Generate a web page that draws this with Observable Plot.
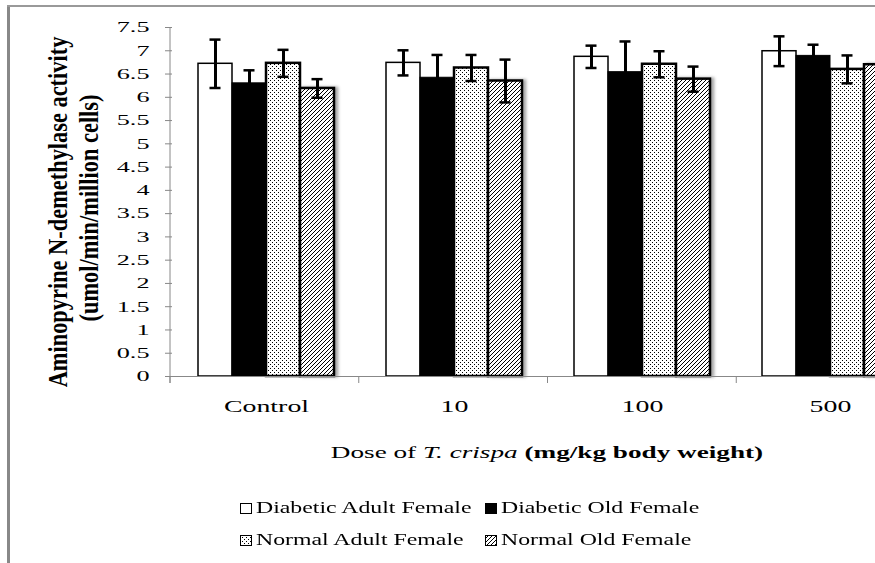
<!DOCTYPE html>
<html><head><meta charset="utf-8">
<script src="https://cdn.jsdelivr.net/npm/d3@7"></script>
<script src="https://cdn.jsdelivr.net/npm/@observablehq/plot@0.6"></script>
<style>
html,body{margin:0;padding:0;background:#fff;}
#wrap{position:relative;width:875px;height:563px;overflow:hidden;background:#fff;font-family:"Liberation Serif",serif;}
#chart{position:absolute;left:0;top:0;width:940px;height:563px;}
#chart svg{max-width:none !important;}
#frameL{position:absolute;left:7px;top:5px;width:3px;height:560px;background:#888;}
#frameT{position:absolute;left:7px;top:5px;width:870px;height:2px;background:#999;}
.lg{position:absolute;display:flex;align-items:center;white-space:nowrap;}
.lg span{display:inline-block;transform:scaleX(1.4);transform-origin:0 50%;font-size:17px;color:#000;}
</style></head><body>
<div id="wrap"><div id="chart"></div><div id="frameL"></div><div id="frameT"></div></div>
<script>
const doses = ["Control", "10", "100", "500"];
const series = ["Diabetic Adult Female", "Diabetic Old Female", "Normal Adult Female", "Normal Old Female"];
const diabeticAdult   = [6.72, 6.74, 6.87, 6.99];
const diabeticAdultSE = [0.52, 0.27, 0.24, 0.32];
const diabeticOld     = [6.30, 6.42, 6.54, 6.89];
const diabeticOldSE   = [0.28, 0.49, 0.66, 0.24];
const normalAdult     = [6.73, 6.63, 6.71, 6.60];
const normalAdultSE   = [0.29, 0.28, 0.28, 0.30];
const normalOld       = [6.19, 6.35, 6.39, 6.70];
const normalOldSE     = [0.20, 0.46, 0.27, 0.30];
const yTicks = [0, 0.5, 1, 1.5, 2, 2.5, 3, 3.5, 4, 4.5, 5, 5.5, 6, 6.5, 7, 7.5];
const fills = ["#ffffff", "#000000", "url(#dots)", "url(#hatch)"];

const means = [diabeticAdult, diabeticOld, normalAdult, normalOld];
const ses = [diabeticAdultSE, diabeticOldSE, normalAdultSE, normalOldSE];
const rows = [];
doses.forEach((dose, i) => series.forEach((s, j) => rows.push({dose, series: s, mean: means[j][i], se: ses[j][i], k: j})));

const chart = Plot.plot({
  width: 940, height: 563,
  marginLeft: 170, marginRight: 15, marginTop: 27, marginBottom: 187,
  style: {fontFamily: "Liberation Serif, serif", background: "transparent", color: "#000", maxWidth: "none"},
  fx: {domain: doses, padding: 0, label: null},
  x: {domain: series, paddingInner: 0, paddingOuter: 0.73, axis: null},
  y: {domain: [0, 7.5]},
  color: {domain: series, range: fills},
  marks: [
    Plot.barY(rows.filter(d => d.k === 0), {fx: "dose", x: "series", y: "mean", fill: "series", stroke: "#000", strokeWidth: 1.5}),
    Plot.barY(rows.filter(d => d.k === 1), {fx: "dose", x: "series", y: "mean", fill: "series", stroke: "#000", strokeWidth: 1}),
    Plot.barY(rows.filter(d => d.k === 2), {fx: "dose", x: "series", y: "mean", fill: "series", stroke: "#000", strokeWidth: 2.5}),
    Plot.barY(rows.filter(d => d.k === 3), {fx: "dose", x: "series", y: "mean", fill: "series", stroke: "#000", strokeWidth: 2.5}),
    Plot.ruleY([0], {stroke: "#888", strokeWidth: 1}),
    Plot.ruleX(rows, {fx: "dose", x: "series", y1: d => d.mean - d.se, y2: d => d.mean + d.se, stroke: "#000", strokeWidth: 3}),
    Plot.tickY(rows, {fx: "dose", x: "series", y: d => d.mean + d.se, stroke: "#000", strokeWidth: 2.5, inset: 11.5}),
    Plot.tickY(rows, {fx: "dose", x: "series", y: d => d.mean - d.se, stroke: "#000", strokeWidth: 2.5, inset: 11.5}),
    Plot.axisY({ticks: yTicks, tickFormat: d => String(d), tickSize: 7, tickPadding: 16, stroke: "#888", fontSize: 15, label: null}),
    Plot.axisFx({anchor: "bottom", tickSize: 0, tickPadding: 23, fontSize: 17, label: null})
  ]
});
chart.style.maxWidth = "none";
document.getElementById("chart").appendChild(chart);
const svg = d3.select(chart);

// patterns and shadow
const defs = svg.insert("defs", ":first-child");
const dots = defs.append("pattern").attr("id", "dots").attr("patternUnits", "userSpaceOnUse").attr("width", 4).attr("height", 4);
dots.append("rect").attr("width", 4).attr("height", 4).attr("fill", "#fff");
dots.append("rect").attr("x", 0).attr("y", 0).attr("width", 1).attr("height", 1).attr("fill", "#000");
dots.append("rect").attr("x", 2).attr("y", 2).attr("width", 1).attr("height", 1).attr("fill", "#000");
const hatch = defs.append("pattern").attr("id", "hatch").attr("patternUnits", "userSpaceOnUse").attr("width", 4).attr("height", 4);
hatch.append("rect").attr("width", 4).attr("height", 4).attr("fill", "#fff");
hatch.append("path").attr("d", "M-1,1 L1,-1 M0,4 L4,0 M3,5 L5,3").attr("stroke", "#000").attr("stroke-width", 1);
const f = defs.append("filter").attr("id", "shadow").attr("x", "-20%").attr("y", "-5%").attr("width", "160%").attr("height", "110%");
f.append("feDropShadow").attr("dx", 3).attr("dy", 0).attr("stdDeviation", 1.5).attr("flood-color", "#000").attr("flood-opacity", 0.35);
svg.selectAll('rect[fill="url(#hatch)"]').attr("filter", "url(#shadow)");

// horizontal stretch helper for text, about its anchor x (in the text's local frame)
function stretch(t, sx, size) {
  if (size) { t.style.fontSize = size + "px"; t.setAttribute("font-size", size); }
  const ax = parseFloat(t.getAttribute("x")) || 0;
  const g = document.createElementNS("http://www.w3.org/2000/svg", "g");
  const tr = t.getAttribute("transform");
  if (tr) g.setAttribute("transform", tr);
  t.removeAttribute("transform");
  t.parentNode.insertBefore(g, t);
  g.appendChild(t);
  t.setAttribute("transform", `translate(${ax},0) scale(${sx},1) translate(${-ax},0)`);
}
chart.querySelectorAll('g[aria-label="y-axis tick label"] text').forEach(t => stretch(t, 1.75, 15));
chart.querySelectorAll('g[aria-label="fx-axis tick label"] text').forEach(t => stretch(t, 1.64, 17));

// axis lines and category boundary ticks, from Plot's scales
const fxs = chart.scale("fx"), ys = chart.scale("y");
const band = d3.scaleBand(fxs.domain, fxs.range).paddingInner(fxs.paddingInner || 0).paddingOuter(fxs.paddingOuter || 0).align(fxs.align ?? 0.5);
const yl = d3.scaleLinear(ys.domain, ys.range);
const y0 = yl(0), x0 = fxs.range[0];
const bounds = doses.map(d => band(d)).concat([fxs.range[1]]);
const axg = svg.append("g").attr("stroke", "#888").attr("stroke-width", 1);
axg.append("line").attr("x1", x0).attr("x2", x0).attr("y1", yl(7.5)).attr("y2", y0 + 7);
bounds.forEach(b => axg.append("line").attr("x1", b).attr("x2", b).attr("y1", y0).attr("y2", y0 + 7));

// y-axis title (two lines, rotated)
const yt = svg.append("g").attr("font-weight", "bold").attr("font-size", 16).attr("text-anchor", "middle").attr("dominant-baseline", "central").attr("fill", "#000");
yt.append("text").attr("transform", "translate(57,212) rotate(-90) scale(1.4,1.75)").text("Aminopyrine N-demethylase activity");
yt.append("text").attr("transform", "translate(88,208) rotate(-90) scale(1.4,1.75)").text("(umol/min/million cells)");

// x-axis title
const xt = svg.append("text").attr("x", 547).attr("y", 452).attr("text-anchor", "middle").attr("dominant-baseline", "central").attr("fill", "#000");
xt.append("tspan").text("Dose of ");
xt.append("tspan").attr("font-style", "italic").text("T. crispa");
xt.append("tspan").attr("font-weight", "bold").text(" (mg/kg body weight)");
stretch(xt.node(), 1.6, 17);

// legend
const wrap = document.getElementById("wrap");
const cols = [240, 485], rowsY = [508, 540];
series.forEach((s, j) => {
  const div = document.createElement("div");
  div.className = "lg";
  div.style.left = cols[j % 2] + "px";
  div.style.top = (rowsY[Math.floor(j / 2)] - 10) + "px";
  div.style.height = "20px";
  div.innerHTML = `<svg width="13" height="11" style="margin-right:3px"><rect x="0.5" y="0.5" width="11" height="10" fill="${fills[j]}" stroke="#000" stroke-width="1"/></svg><span>${s}</span>`;
  wrap.appendChild(div);
});
</script>
</body></html>
